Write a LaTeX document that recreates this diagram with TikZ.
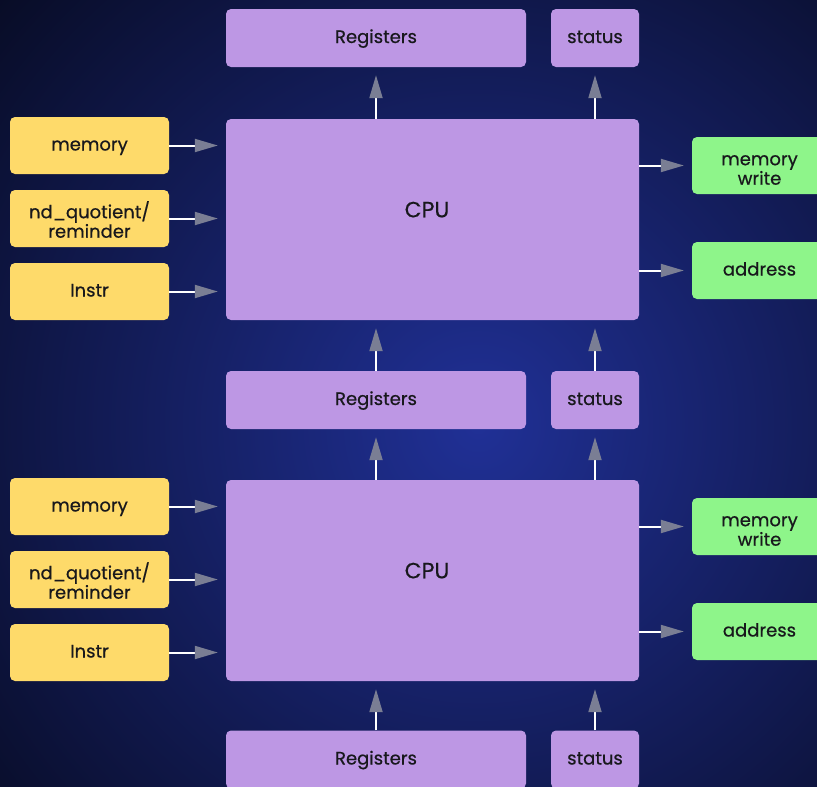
\documentclass[tikz,border=0pt]{standalone}
\usepackage{fontspec}
\setmainfont{Poppins}
\newfontfamily\boxfont{Poppins}[FakeBold=0.6]
\usetikzlibrary{arrows.meta}
\definecolor{cpupurple}{RGB}{189,151,228}
\definecolor{inyellow}{RGB}{254,218,106}
\definecolor{outgreen}{RGB}{142,245,138}
\definecolor{tipgray}{RGB}{122,126,148}
\definecolor{bgblue}{RGB}{32,48,150}
\definecolor{labelink}{RGB}{24,24,28}

\begin{document}
\begin{tikzpicture}[x=1pt,y=-1pt,
  box/.style={rounded corners=5pt,inner sep=0pt,align=center,text=labelink,font=\boxfont\fontsize{18}{19.5}\selectfont},
  oneline/.style={text height=12pt,text depth=2pt},
  twoline/.style={text height=38.4pt,text depth=0pt},
  purplebox/.style={box,fill=cpupurple},
  inbox/.style={box,fill=inyellow,minimum width=159pt,minimum height=57pt},
  outbox/.style={box,fill=outgreen,minimum width=135pt,minimum height=57pt},
  flow/.style={draw=white,line width=2pt,shorten >=8pt,-{Triangle[length=23pt,width=13pt,color=tipgray]}}]
% Background
\useasboundingbox (0,0) rectangle (817,787);
\clip (0,0) rectangle (817,787);
\fill[black] (0,0) rectangle (817,787);
\shade[inner color=bgblue,outer color=black] (478,425) circle (860pt);

% Register rows
\foreach \r/\y in {0/38, 1/400, 2/759.5} {
    \node[purplebox,oneline,minimum width=300pt,minimum height=58pt] (regs\r) at (376,\y) {Registers};
    \node[purplebox,oneline,minimum width=88pt,minimum height=58pt] (status\r) at (595,\y) {status};
}

% CPU blocks
\foreach \k/\up in {1/0, 2/1} {
    \pgfmathsetmacro\top{\k==1 ? 119 : 480}
    \node[purplebox,minimum width=413pt,minimum height=201pt,text height=2pt,text depth=6.4pt,
          font=\boxfont\fontsize{22}{24}\selectfont] (cpu\k) at (432.5,\top+100.5) {CPU\hspace*{11pt}};
    \node[inbox,oneline] (mem\k) at (89.5,\top+26.5) {memory};
    \node[inbox,twoline] (quot\k) at (89.5,\top+99.5) {nd\_quotient/\\reminder};
    \node[inbox,oneline] (instr\k) at (89.5,\top+172.5) {Instr};
    \node[outbox,twoline] (memw\k) at (759.5,\top+46.5) {memory\\write};
    \node[outbox,oneline] (addr\k) at (759.5,\top+151.5) {address};

    % inputs
    \draw[flow] (mem\k.east) -- (mem\k.east -| cpu\k.west);
    \draw[flow] (quot\k.east) -- (quot\k.east -| cpu\k.west);
    \draw[flow] (instr\k.east) -- (instr\k.east -| cpu\k.west);
    % outputs
    \draw[flow] (memw\k.west -| cpu\k.east) -- (memw\k.west);
    \draw[flow] (addr\k.west -| cpu\k.east) -- (addr\k.west);
    % registers
    \draw[flow] (regs\up.south |- cpu\k.north) -- (regs\up.south);
    \draw[flow] (status\up.south |- cpu\k.north) -- (status\up.south);
    \draw[flow] (regs\k.north) -- (regs\k.north |- cpu\k.south);
    \draw[flow] (status\k.north) -- (status\k.north |- cpu\k.south);
}
\end{tikzpicture}
\end{document}
